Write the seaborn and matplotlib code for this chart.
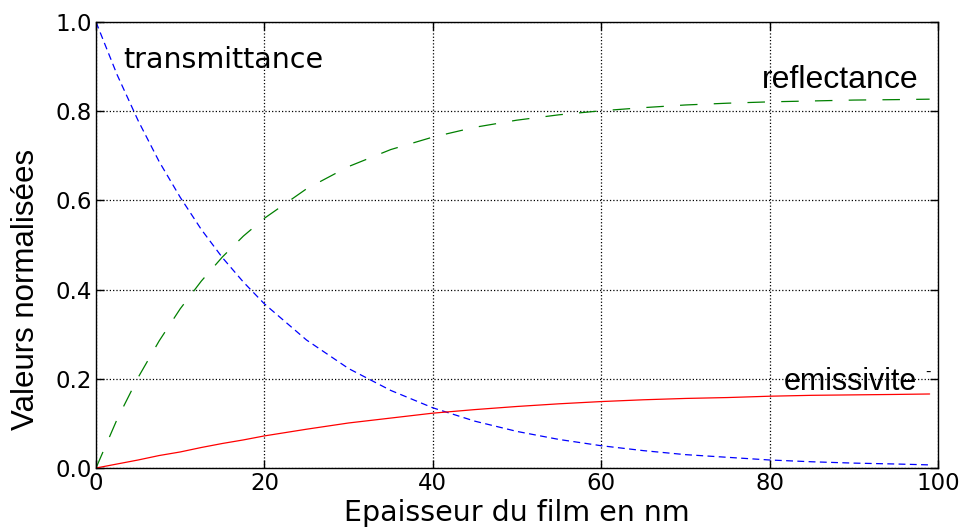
import numpy as np
import pandas as pd
import matplotlib
matplotlib.use("Agg")
import matplotlib.pyplot as plt
import seaborn as sns

# film thickness (nm) and normalised values
thickness = [0, 2.5, 5, 7.5, 10, 12.5, 15, 17.5, 20, 25, 30, 35, 40, 45,
             50, 55, 60, 65, 70, 75, 80, 85, 90, 95, 99]
transmittance = [1.0, 0.882, 0.779, 0.687, 0.607, 0.535, 0.472, 0.417, 0.368,
                 0.287, 0.223, 0.174, 0.135, 0.105, 0.082, 0.064, 0.050, 0.039,
                 0.030, 0.024, 0.018, 0.014, 0.011, 0.009, 0.007]
reflectance = [0.0, 0.109, 0.203, 0.285, 0.357, 0.419, 0.473, 0.520, 0.560,
               0.626, 0.676, 0.714, 0.742, 0.764, 0.780, 0.792, 0.801, 0.808,
               0.814, 0.818, 0.821, 0.823, 0.825, 0.826, 0.827]
emissivite = [0.0, 0.009, 0.018, 0.028, 0.036, 0.046, 0.055, 0.063, 0.072,
              0.087, 0.101, 0.112, 0.123, 0.131, 0.138, 0.144, 0.149, 0.153,
              0.156, 0.158, 0.161, 0.163, 0.164, 0.165, 0.166]

x_ticks = [0, 20, 40, 60, 80, 100]
y_ticks = [0.0, 0.2, 0.4, 0.6, 0.8, 1.0]

df = pd.DataFrame({"x": thickness, "T": transmittance,
                   "R": reflectance, "E": emissivite})

sns.set_style("white")
plt.rcParams["font.family"] = ["DejaVu Sans"]
plt.rcParams["text.color"] = "black"
plt.rcParams["axes.labelcolor"] = "black"
plt.rcParams["xtick.color"] = "black"
plt.rcParams["ytick.color"] = "black"

fig = plt.figure(figsize=(9.62, 5.28), dpi=100)
ax = fig.add_axes([0.0998, 0.1136, 0.8753, 0.8447])

sns.lineplot(data=df, x="x", y="T", ax=ax, color="blue", lw=0.9,
             linestyle=(0, (5.5, 3.5)))
sns.lineplot(data=df, x="x", y="R", ax=ax, color="green", lw=0.9,
             linestyle=(0, (14, 13)))
sns.lineplot(data=df, x="x", y="E", ax=ax, color="red", lw=0.9)

ax.set_xlim(0, 100)
ax.set_ylim(0, 1)
ax.set_xticks(x_ticks)
ax.set_yticks(y_ticks)
ax.set_xticklabels([str(t) for t in x_ticks])
ax.set_yticklabels([f"{t:.1f}" for t in y_ticks])
ax.tick_params(direction="in", length=6, width=1, labelsize=16.5,
               top=True, right=True, bottom=True, left=True, pad=3)
ax.grid(True, linestyle=":", color="black", lw=0.9)
for s in ax.spines.values():
    s.set_color("black")
    s.set_linewidth(1.0)

ax.set_xlabel("Epaisseur du film en nm", fontsize=20.5, labelpad=3)
ax.set_ylabel("Valeurs normalisées", fontsize=22.5, family="Liberation Sans",
              va="center")
ax.yaxis.set_label_coords(-0.083, 0.40)

ax.text(3.2, 0.897, "transmittance", fontsize=20.5, va="baseline")
ax.text(79.1, 0.852, "reflectance", fontsize=23, family="Liberation Sans",
        va="baseline")
ax.text(81.7, 0.175, "emissivite", fontsize=22, family="Liberation Sans",
        va="baseline")
ax.text(98.8, 0.215, "-", fontsize=12, family="Liberation Sans",
        ha="center", va="center")

fig.savefig("out.png", dpi=100)
